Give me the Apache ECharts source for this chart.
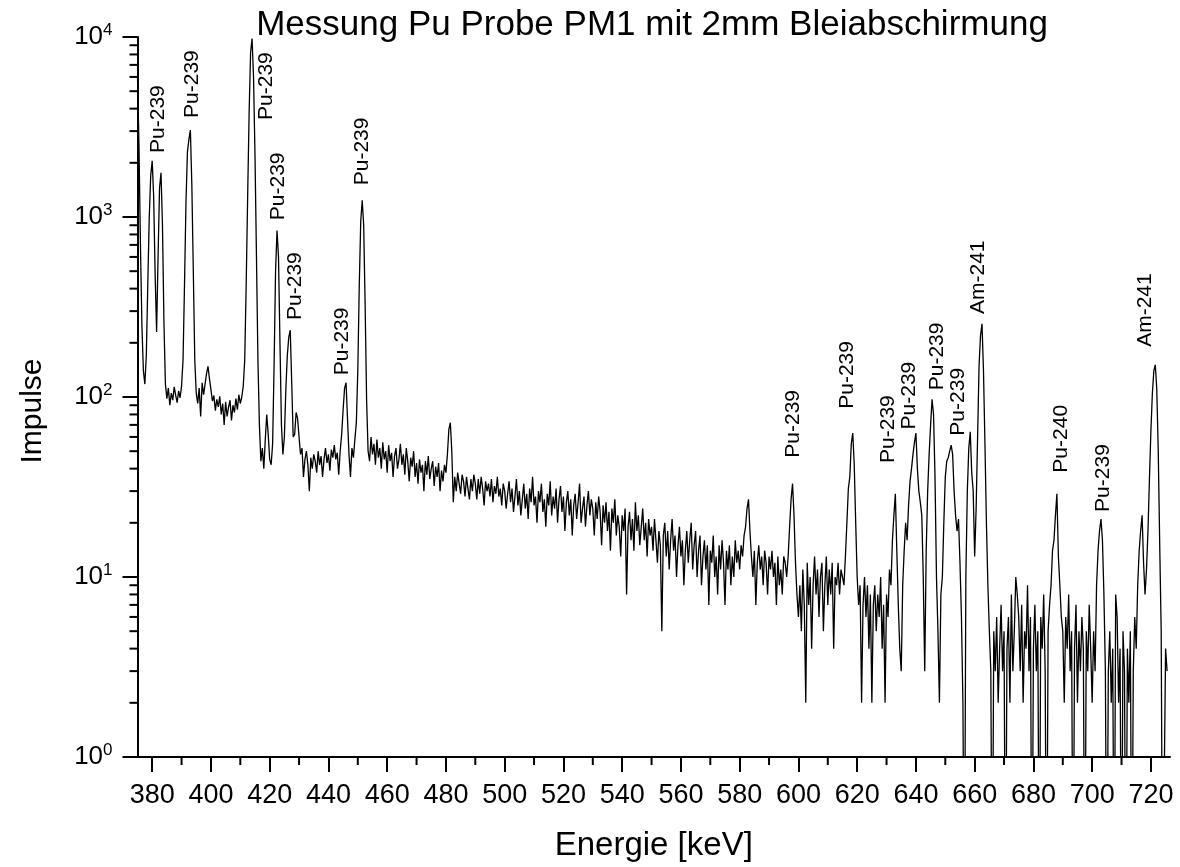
<!DOCTYPE html>
<html>
<head>
<meta charset="utf-8">
<script src="https://cdn.jsdelivr.net/npm/echarts@6/dist/echarts.min.js"></script>
<style>html,body{margin:0;padding:0;background:#fff}#c{width:1180px;height:867px}</style>
</head>
<body>
<div id="c"></div>
<script>
const FONT = '"Liberation Sans", Arial, Helvetica, sans-serif';
const chartTitle = 'Messung Pu Probe PM1 mit 2mm Bleiabschirmung';
const xAxisName = 'Energie [keV]';
const yAxisName = 'Impulse';

// channel calibration of the spectrum (keV)
const startEnergy = 375.0;
const energyStep = 0.5;
const xMin = 375, xMax = 726.5;
const yMin = 1, yMax = 10000;

const xTickLabels = [380,400,420,440,460,480,500,520,540,560,580,600,620,640,660,680,700,720];
const xMinorTicks = [390,410,430,450,470,490,510,530,550,570,590,610,630,650,670,690,710];
const yDecades = [1,10,100,1000];
const yMinorMultipliers = [2,3,4,5,6,7,8,9];

// counts, 0.5 keV per channel
const countsA = [ // 375.0 - 424.5
6000,2500,700,250,140,118,170,420,1000,1700,
2050,1300,480,230,600,1450,1760,900,260,118,
98,112,90,105,96,114,102,93,108,99,
115,160,420,1200,2300,2700,3040,1500,500,160,
105,92,112,78,120,103,118,135,148,126,
110,95,102,84,97,88,101,80,92,70,
94,78,88,96,74,90,82,98,85,103,
92,100,115,160,420,1300,3800,8200,9800,6000,
2200,600,160,70,44,52,40,58,80,62,
45,42,55,150,500,840,600,200,70,48];
const countsB = [ // 425.0 - 474.5
60,110,170,215,235,120,60,62,82,76,
60,48,52,36,45,50,42,30,46,40,
48,44,38,50,42,47,36,45,52,43,
48,39,51,46,54,45,49,37,50,62,
85,112,120,75,48,36,52,46,58,72,
140,420,950,1240,900,320,95,50,44,60,
48,55,42,58,46,52,40,56,45,50,
38,54,44,49,36,47,52,40,45,55,
42,48,37,52,44,34,46,41,50,36,
43,33,45,38,42,30,44,37,47,35];
const countsC = [ // 475.0 - 524.5
40,44,32,41,36,43,30,39,34,42,
38,48,66,72,50,26,36,30,38,33,
29,37,34,28,36,31,27,35,30,37,
33,27,35,29,36,31,25,34,30,33,
28,35,26,32,29,36,28,31,25,33,
30,24,29,34,26,31,23,28,35,25,
30,22,27,33,24,29,21,31,26,36,
25,28,20,30,26,33,23,27,19,29,
25,34,22,28,24,31,20,27,32,23,
28,18,26,30,22,27,17,25,29,21];
const countsD = [ // 525.0 - 574.5
26,33,20,24,28,19,25,30,22,27,
24,17,26,21,28,23,15,25,20,26,
18,23,14,24,20,27,17,22,19,13,
22,18,24,8,19,23,16,21,14,26,
18,22,15,19,24,16,20,13,21,17,
19,14,21,16,12,18,15,5,17,20,
13,18,11,16,21,14,17,10,15,19,
13,16,9,14,18,12,16,20,11,15,
18,10,14,17,9,13,16,11,15,7,
14,12,17,10,13,8,15,11,16,12];
const countsE = [ // 575.0 - 624.5
7,14,11,15,9,13,10,16,12,14,
11,15,13,17,19,24,27,18,13,10,
14,7,12,15,11,13,9,14,12,8,
13,11,14,10,12,7,13,9,11,8,
13,12,10,13,19,27,33,22,12,8,
6,9,5,11,7,2,12,7,10,4,
9,13,8,11,6,10,12,5,9,13,
7,11,8,12,4,10,9,12,8,11,
10,9,13,20,31,36,55,63,42,20,
10,7,9,2,7,10,6,9,4,8];
const countsF = [ // 625.0 - 674.5
2,7,9,5,8,6,10,4,7,2,
8,6,11,9,16,22,29,14,7,4,
3,9,14,20,16,25,34,40,48,56,
63,40,30,26,22,10,3,14,30,48,
70,97,80,36,10,5,2,8,10,20,
36,44,46,50,54,48,30,22,18,21,
12,6,2,0,10,30,52,64,38,30,
13,24,60,150,220,255,140,55,20,9,
5,3,0,5,3,6,2,4,7,3,
5,0,4,6,2,8,3,5,10,8];
const countsG = [ // 675.0 - 725.5
6,3,7,2,5,4,9,3,6,0,
4,7,3,5,0,6,4,8,3,0,
5,7,9,14,16,22,29,13,9,6,
5,2,6,4,8,3,5,0,4,7,
2,5,3,6,4,0,5,3,7,4,
2,5,3,9,14,18,21,16,8,3,
0,3,5,2,4,0,8,6,2,4,
0,5,3,0,4,2,5,0,3,6,
4,9,14,18,22,12,8,11,18,35,
65,105,140,151,110,50,15,5,0,0,
4,3];

// peak annotations: text, energy (keV) and count level where the text starts
const peakLabelText   = ['Pu-239','Pu-239','Pu-239','Pu-239','Pu-239','Pu-239','Pu-239','Pu-239','Pu-239','Pu-239','Pu-239','Pu-239','Pu-239','Am-241','Pu-240','Pu-239','Am-241'];
const peakLabelEnergy = [381.9,393.5,418.7,422.8,428.6,444.6,451.4,598.2,616.6,630.6,637.8,647.4,654.5,661.3,689.3,703.6,718.2];
const peakLabelCount  = [2270,3550,3460,960,268,132,1500,46,86,43,66,109,61,289,38,23,190];

const counts = [].concat(countsA, countsB, countsC, countsD, countsE, countsF, countsG);
// zero counts cannot be shown on a log axis: draw them below the axis (clipped)
const spectrum = counts.map((c, i) => [startEnergy + i * energyStep, c > 0 ? c : 0.1]);

const chart = echarts.init(document.getElementById('c'), null, {renderer: 'canvas'});
const axisColor = '#000';
chart.setOption({
  animation: false,
  backgroundColor: '#fff',
  textStyle: {fontFamily: FONT, color: '#000'},
  title: {
    text: chartTitle,
    left: 652,
    textAlign: 'center',
    top: 8,
    padding: 0,
    textStyle: {fontFamily: FONT, fontSize: 35, fontWeight: 'normal', color: '#000'}
  },
  grid: {left: 137.5, right: 10, top: 37, bottom: 110, containLabel: false, outerBoundsMode: 'none'},
  xAxis: {
    type: 'value', min: xMin, max: xMax,
    name: xAxisName, nameLocation: 'middle', nameGap: 72,
    nameTextStyle: {fontFamily: FONT, fontSize: 33, color: '#000'},
    axisLine: {show: true, lineStyle: {color: axisColor, width: 2}},
    axisTick: {show: true, customValues: xTickLabels, length: 15, lineStyle: {color: axisColor, width: 2}},
    axisLabel: {customValues: xTickLabels, margin: 25, fontFamily: FONT, fontSize: 27, color: '#000'},
    splitLine: {show: false}
  },
  yAxis: {
    type: 'log', logBase: 10, min: yMin, max: yMax,
    name: yAxisName, nameLocation: 'middle', nameGap: 90, nameRotate: 90,
    nameTextStyle: {fontFamily: FONT, fontSize: 30, color: '#000', padding: [0, 28, 0, 0]},
    axisLine: {show: true, lineStyle: {color: axisColor, width: 2}},
    axisTick: {show: true, length: 15, lineStyle: {color: axisColor, width: 2}},
    axisLabel: {
      margin: 25,
      formatter: v => '{b|10}{s|' + Math.round(Math.log10(v)) + '}',
      rich: {
        b: {fontFamily: FONT, fontSize: 26, color: '#000', lineHeight: 30, verticalAlign: 'middle'},
        s: {fontFamily: FONT, fontSize: 17, color: '#000', lineHeight: 30, verticalAlign: 'top'}
      }
    },
    splitLine: {show: false}
  },
  series: [{
    type: 'line', data: spectrum, showSymbol: false, symbol: 'none',
    lineStyle: {color: '#000', width: 1.3}, clip: true, z: 3
  }]
});

// minor ticks and peak annotations placed through the chart's own scales
const gfx = [];
const x0 = chart.convertToPixel({xAxisIndex: 0}, xMin);
const y0 = chart.convertToPixel({yAxisIndex: 0}, yMin);
yDecades.forEach(d => yMinorMultipliers.forEach(m => {
  const py = chart.convertToPixel({yAxisIndex: 0}, d * m);
  gfx.push({type: 'line', z: 10, shape: {x1: x0 - 8, y1: py, x2: x0, y2: py}, style: {stroke: '#000', lineWidth: 2}});
}));
xMinorTicks.forEach(v => {
  const px = chart.convertToPixel({xAxisIndex: 0}, v);
  gfx.push({type: 'line', z: 10, shape: {x1: px, y1: y0, x2: px, y2: y0 + 8}, style: {stroke: '#000', lineWidth: 2}});
});
peakLabelText.forEach((t, i) => {
  const p = chart.convertToPixel({gridIndex: 0}, [peakLabelEnergy[i], peakLabelCount[i]]);
  gfx.push({
    type: 'text', z: 10, x: p[0], y: p[1], rotation: Math.PI / 2,
    style: {text: t, fill: '#000', fontFamily: FONT, fontSize: 21,
            align: 'left', textAlign: 'left', verticalAlign: 'middle', textVerticalAlign: 'middle'}
  });
});
chart.setOption({graphic: gfx});
</script>
</body>
</html>
